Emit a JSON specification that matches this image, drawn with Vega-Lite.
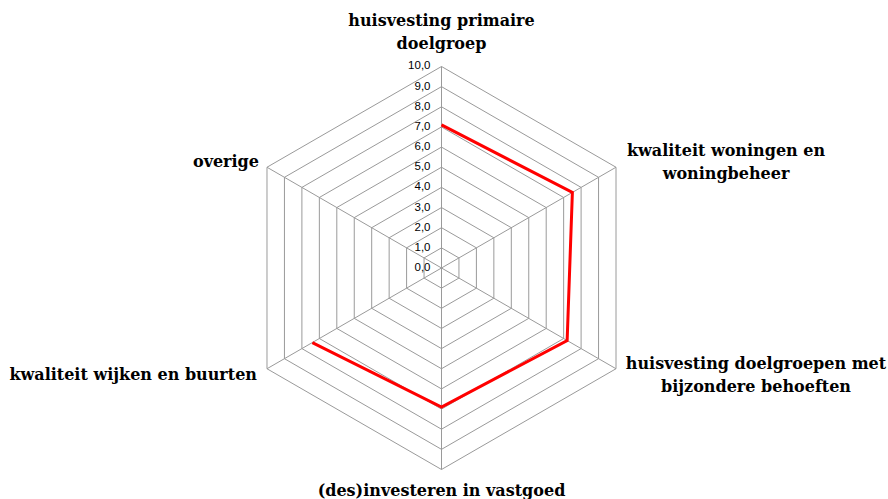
{
  "$schema": "https://vega.github.io/schema/vega-lite/v6.json",
  "width": 888,
  "height": 499,
  "autosize": {"type": "none"},
  "padding": 0,
  "background": "white",
  "config": {
    "view": {"stroke": null}
  },
  "datasets": {
    "scores": [
      {"idx": 0, "label": "huisvesting primaire\ndoelgroep", "score": 7.1},
      {"idx": 1, "label": "kwaliteit woningen en\nwoningbeheer", "score": 7.5},
      {"idx": 2, "label": "huisvesting doelgroepen met\nbijzondere behoeften", "score": 7.2},
      {"idx": 3, "label": "(des)investeren in vastgoed", "score": 6.9},
      {"idx": 4, "label": "kwaliteit wijken en buurten", "score": 7.4},
      {"idx": 5, "label": "overige", "score": null}
    ],
    "levels": [
      {"level": 0}, {"level": 1}, {"level": 2}, {"level": 3}, {"level": 4}, {"level": 5},
      {"level": 6}, {"level": 7}, {"level": 8}, {"level": 9}, {"level": 10}
    ]
  },
  "layer": [
    {
      "data": {"name": "levels"},
      "transform": [
        {"filter": "datum.level > 0"},
        {"calculate": "[0,1,2,3,4,5,6]", "as": "verts"},
        {"flatten": ["verts"]},
        {"calculate": "datum.level * sin(datum.verts * PI / 3)", "as": "gx"},
        {"calculate": "datum.level * cos(datum.verts * PI / 3)", "as": "gy"}
      ],
      "mark": {"type": "line", "stroke": "#9a9a9a", "strokeWidth": 1},
      "encoding": {
        "x": {"field": "gx", "type": "quantitative", "scale": {"domain": [-21.911, 22.159], "nice": false, "zero": false}, "axis": null},
        "y": {"field": "gy", "type": "quantitative", "scale": {"domain": [-11.464, 13.3], "nice": false, "zero": false}, "axis": null},
        "detail": {"field": "level", "type": "nominal"},
        "order": {"field": "verts", "type": "quantitative"}
      }
    },
    {
      "data": {"name": "scores"},
      "transform": [
        {"calculate": "0", "as": "ox"},
        {"calculate": "10 * sin(datum.idx * PI / 3)", "as": "vx"},
        {"calculate": "10 * cos(datum.idx * PI / 3)", "as": "vy"}
      ],
      "mark": {"type": "rule", "stroke": "#9a9a9a", "strokeWidth": 1},
      "encoding": {
        "x": {"field": "ox", "type": "quantitative", "scale": {"domain": [-21.911, 22.159], "nice": false, "zero": false}, "axis": null},
        "y": {"field": "ox", "type": "quantitative", "scale": {"domain": [-11.464, 13.3], "nice": false, "zero": false}, "axis": null},
        "x2": {"field": "vx"},
        "y2": {"field": "vy"}
      }
    },
    {
      "data": {"name": "scores"},
      "transform": [
        {"filter": "isValid(datum.score)"},
        {"calculate": "datum.score * sin(datum.idx * PI / 3)", "as": "px"},
        {"calculate": "datum.score * cos(datum.idx * PI / 3)", "as": "py"}
      ],
      "mark": {"type": "line", "stroke": "#ff0000", "strokeWidth": 3, "strokeJoin": "miter"},
      "encoding": {
        "x": {"field": "px", "type": "quantitative", "scale": {"domain": [-21.911, 22.159], "nice": false, "zero": false}, "axis": null},
        "y": {"field": "py", "type": "quantitative", "scale": {"domain": [-11.464, 13.3], "nice": false, "zero": false}, "axis": null},
        "order": {"field": "idx", "type": "quantitative"}
      }
    },
    {
      "data": {"name": "levels"},
      "transform": [
        {"calculate": "0", "as": "ox"},
        {"calculate": "replace(format(datum.level, '.1f'), '.', ',')", "as": "tick"}
      ],
      "mark": {"type": "text", "align": "right", "baseline": "middle", "dx": -11, "font": "Liberation Sans", "fontSize": 11.5, "fill": "#000000"},
      "encoding": {
        "x": {"field": "ox", "type": "quantitative", "scale": {"domain": [-21.911, 22.159], "nice": false, "zero": false}, "axis": null},
        "y": {"field": "level", "type": "quantitative", "scale": {"domain": [-11.464, 13.3], "nice": false, "zero": false}, "axis": null},
        "text": {"field": "tick", "type": "nominal"}
      }
    },
    {
      "data": {"name": "scores"},
      "transform": [
        {"filter": "datum.idx == 0"},
        {"calculate": "10 * sin(datum.idx * PI / 3)", "as": "vx"},
        {"calculate": "10 * cos(datum.idx * PI / 3)", "as": "vy"}
      ],
      "mark": {"type": "text", "align": "center", "baseline": "alphabetic", "dy": -40, "lineBreak": "\n", "lineHeight": 23, "font": "DejaVu Serif", "fontWeight": "bold", "fontSize": 16, "fill": "#000000"},
      "encoding": {
        "x": {"field": "vx", "type": "quantitative", "scale": {"domain": [-21.911, 22.159], "nice": false, "zero": false}, "axis": null},
        "y": {"field": "vy", "type": "quantitative", "scale": {"domain": [-11.464, 13.3], "nice": false, "zero": false}, "axis": null},
        "text": {"field": "label", "type": "nominal"}
      }
    },
    {
      "data": {"name": "scores"},
      "transform": [
        {"filter": "datum.idx == 1"},
        {"calculate": "10 * sin(datum.idx * PI / 3)", "as": "vx"},
        {"calculate": "10 * cos(datum.idx * PI / 3)", "as": "vy"}
      ],
      "mark": {"type": "text", "align": "center", "baseline": "alphabetic", "dx": 110, "dy": -11, "lineBreak": "\n", "lineHeight": 23, "font": "DejaVu Serif", "fontWeight": "bold", "fontSize": 16, "fill": "#000000"},
      "encoding": {
        "x": {"field": "vx", "type": "quantitative", "scale": {"domain": [-21.911, 22.159], "nice": false, "zero": false}, "axis": null},
        "y": {"field": "vy", "type": "quantitative", "scale": {"domain": [-11.464, 13.3], "nice": false, "zero": false}, "axis": null},
        "text": {"field": "label", "type": "nominal"}
      }
    },
    {
      "data": {"name": "scores"},
      "transform": [
        {"filter": "datum.idx == 2"},
        {"calculate": "10 * sin(datum.idx * PI / 3)", "as": "vx"},
        {"calculate": "10 * cos(datum.idx * PI / 3)", "as": "vy"}
      ],
      "mark": {"type": "text", "align": "center", "baseline": "alphabetic", "dx": 140, "dy": 0, "lineBreak": "\n", "lineHeight": 23, "font": "DejaVu Serif", "fontWeight": "bold", "fontSize": 16, "fill": "#000000"},
      "encoding": {
        "x": {"field": "vx", "type": "quantitative", "scale": {"domain": [-21.911, 22.159], "nice": false, "zero": false}, "axis": null},
        "y": {"field": "vy", "type": "quantitative", "scale": {"domain": [-11.464, 13.3], "nice": false, "zero": false}, "axis": null},
        "text": {"field": "label", "type": "nominal"}
      }
    },
    {
      "data": {"name": "scores"},
      "transform": [
        {"filter": "datum.idx == 3"},
        {"calculate": "10 * sin(datum.idx * PI / 3)", "as": "vx"},
        {"calculate": "10 * cos(datum.idx * PI / 3)", "as": "vy"}
      ],
      "mark": {"type": "text", "align": "center", "baseline": "alphabetic", "dy": 26, "lineBreak": "\n", "lineHeight": 23, "font": "DejaVu Serif", "fontWeight": "bold", "fontSize": 16, "fill": "#000000"},
      "encoding": {
        "x": {"field": "vx", "type": "quantitative", "scale": {"domain": [-21.911, 22.159], "nice": false, "zero": false}, "axis": null},
        "y": {"field": "vy", "type": "quantitative", "scale": {"domain": [-11.464, 13.3], "nice": false, "zero": false}, "axis": null},
        "text": {"field": "label", "type": "nominal"}
      }
    },
    {
      "data": {"name": "scores"},
      "transform": [
        {"filter": "datum.idx == 4"},
        {"calculate": "10 * sin(datum.idx * PI / 3)", "as": "vx"},
        {"calculate": "10 * cos(datum.idx * PI / 3)", "as": "vy"}
      ],
      "mark": {"type": "text", "align": "right", "baseline": "alphabetic", "dx": -10, "dy": 11, "lineBreak": "\n", "lineHeight": 23, "font": "DejaVu Serif", "fontWeight": "bold", "fontSize": 16, "fill": "#000000"},
      "encoding": {
        "x": {"field": "vx", "type": "quantitative", "scale": {"domain": [-21.911, 22.159], "nice": false, "zero": false}, "axis": null},
        "y": {"field": "vy", "type": "quantitative", "scale": {"domain": [-11.464, 13.3], "nice": false, "zero": false}, "axis": null},
        "text": {"field": "label", "type": "nominal"}
      }
    },
    {
      "data": {"name": "scores"},
      "transform": [
        {"filter": "datum.idx == 5"},
        {"calculate": "10 * sin(datum.idx * PI / 3)", "as": "vx"},
        {"calculate": "10 * cos(datum.idx * PI / 3)", "as": "vy"}
      ],
      "mark": {"type": "text", "align": "right", "baseline": "alphabetic", "dx": -8, "dy": 0, "lineBreak": "\n", "lineHeight": 23, "font": "DejaVu Serif", "fontWeight": "bold", "fontSize": 16, "fill": "#000000"},
      "encoding": {
        "x": {"field": "vx", "type": "quantitative", "scale": {"domain": [-21.911, 22.159], "nice": false, "zero": false}, "axis": null},
        "y": {"field": "vy", "type": "quantitative", "scale": {"domain": [-11.464, 13.3], "nice": false, "zero": false}, "axis": null},
        "text": {"field": "label", "type": "nominal"}
      }
    }
  ]
}
